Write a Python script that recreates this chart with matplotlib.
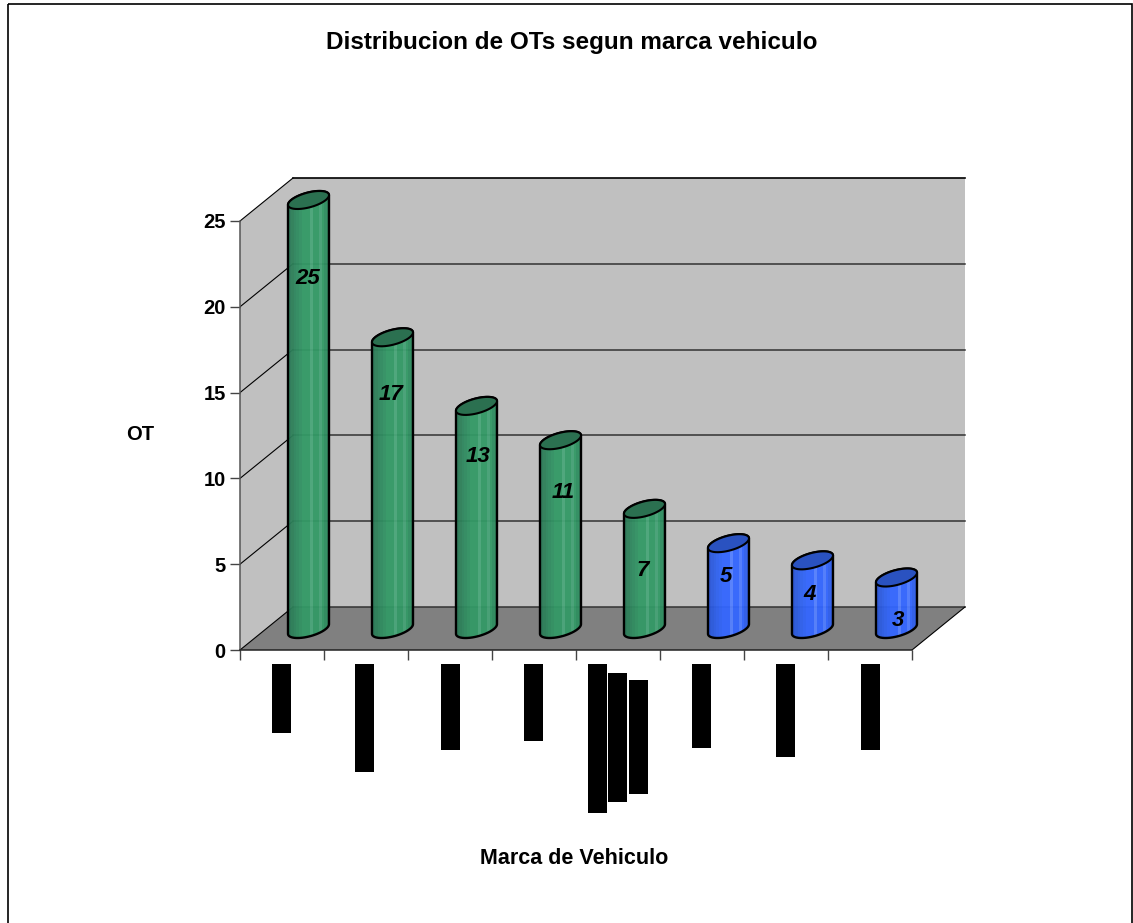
import numpy as np
import matplotlib
matplotlib.use("Agg")
import matplotlib.pyplot as plt
from matplotlib.colors import to_rgb
from matplotlib.patches import Polygon, Rectangle

plt.rcParams['font.family'] = ['Liberation Sans', 'DejaVu Sans']

values = [25, 17, 13, 11, 7, 5, 4, 3]
bar_kind = ['g', 'g', 'g', 'g', 'g', 'b', 'b', 'b']
y_ticks = [0, 5, 10, 15, 20, 25]

# hand placed in the picture (pixels)
label_x = [308, 391, 478, 563, 643, 726, 810, 898]
label_y = [279, 394, 457, 493, 571, 576, 595, 621]

# blacked out category names, pixels
box_left = [272, 355, 441, 524, 588, 608, 629, 692, 776, 861]
box_top = [664, 664, 664, 664, 664, 673, 680, 664, 664, 664]
box_bottom = [733, 772, 750, 741, 813, 802, 794, 748, 757, 750]

green_bands = ['#2b7a58', '#2d8059', '#2f865e', '#308c60', '#329263', '#339966', '#339966',
               '#339966', '#4aa67a', '#339966', '#339966', '#46a276', '#339966', '#2f8e60', '#2b8058']
blue_bands = ['#2a56d8', '#2c5be0', '#2e5fe8', '#3062f0', '#3164f8', '#3366ff', '#3366ff',
              '#3366ff', '#5580ff', '#3366ff', '#3366ff', '#4f7cff', '#3366ff', '#3060ee', '#2c58dc']
top_color = {'g': '#2b7050', 'b': '#2a52c0'}

fig = plt.figure(figsize=(11.33, 9.23), dpi=100)
W, H = 1133, 923

# one x unit = 84 px, one y unit = 17.16 px
PX, PY = 84.0, 17.16
ax = fig.add_axes([240 / W, (H - 650) / H, 8.8 * PX / W, 29 * PY / H])
ax.patch.set_visible(False)

dx, dy = 53 / PX, 43 / PY

# walls and floor
ax.add_patch(Polygon([(dx, dy), (8 + dx, dy), (8 + dx, 25 + dy), (dx, 25 + dy)], fc='#c0c0c0', ec='none'))
ax.add_patch(Polygon([(0, 0), (dx, dy), (dx, 25 + dy), (0, 25)], fc='#c0c0c0', ec='none'))
ax.add_patch(Polygon([(0, 0), (8, 0), (8 + dx, dy), (dx, dy)], fc='#808080', ec='none'))

for v in y_ticks:
    ax.plot([0, dx], [v, v + dy], color='black', lw=0.8)
    ax.plot([dx, 8 + dx], [v + dy, v + dy], color='black' if v == 25 else '#333333',
            lw=1.2 if v == 25 else 1.1)
ax.plot([8, 8 + dx], [0, dy], color='black', lw=0.8)

# cylinders
ru, rx, ry = 17.3 / PX, 11 / PX, 9 / PY
off_x, off_y = 26.5 / PX, 21 / PY
t0 = np.arctan2(rx, ru)
half_w = np.hypot(ru, rx)


def ellipse(cx, cy, t):
    return cx + ru * np.cos(t) + rx * np.sin(t), cy + ry * np.sin(t)


for i, (v, kind) in enumerate(zip(values, bar_kind)):
    cx = i + 0.5 + off_x
    base = off_y
    top = v + off_y
    t_low = np.linspace(t0 + np.pi, t0 + 2 * np.pi, 40)
    t_up = np.linspace(t0, t0 + np.pi, 40)
    xb, yb = ellipse(cx, base, t_low)
    xt, yt = ellipse(cx, top, t_up)
    pts = np.column_stack([np.r_[xb, xt], np.r_[yb, yt]])

    bands = green_bands if kind == 'g' else blue_bands
    rgb = np.array([[to_rgb(c) for c in bands]])
    im = ax.imshow(rgb, extent=[cx - half_w, cx + half_w, base - 2, top + 2], aspect='auto',
                   interpolation='nearest', alpha=0.95, zorder=3)
    outline = Polygon(pts, fc='none', ec='black', lw=1.7, zorder=4, joinstyle='round')
    ax.add_patch(outline)
    im.set_clip_path(outline)

    t_all = np.linspace(0, 2 * np.pi, 80)
    xe, ye = ellipse(cx, top, t_all)
    ax.add_patch(Polygon(np.column_stack([xe, ye]), fc=top_color[kind], ec='black', lw=1.5, zorder=5))

ax.set_xlim(0, 8.8)
ax.set_ylim(0, 29)
ax.set_xticks(range(9))
ax.set_xticklabels([])
ax.set_yticks(y_ticks)
ax.tick_params(axis='x', length=7.2, width=1.0, color='#444444')
ax.tick_params(axis='y', length=7.2, width=1.0, color='#444444', pad=3)
for lab in ax.get_yticklabels():
    lab.set_fontsize(14.5)
    lab.set_fontweight('bold')
ax.spines[['top', 'right']].set_visible(False)
ax.spines['left'].set_bounds(0, 25)
ax.spines['bottom'].set_bounds(0, 8)
ax.spines['left'].set_color('#555555')
ax.spines['left'].set_linewidth(1.1)
ax.spines['bottom'].set_color('#222222')
ax.spines['bottom'].set_linewidth(1.1)

# overlay in pixels for frame, texts, and the black boxes
over = fig.add_axes([0, 0, 1, 1], zorder=10)
over.set_xlim(0, W)
over.set_ylim(H, 0)
over.axis('off')
over.add_patch(Rectangle((7.5, 4), 1124.5, 940, fc='none', ec='black', lw=1.2))
for left, t, b in zip(box_left, box_top, box_bottom):
    over.add_patch(Rectangle((left, t), 19, b - t, fc='black', ec='none'))

over.text(572, 42, 'Distribucion de OTs segun marca vehiculo', fontsize=17.5, fontweight='bold',
          ha='center', va='center')
over.text(140, 435, 'OT', fontsize=14.5, fontweight='bold', ha='center', va='center')
over.text(574, 858, 'Marca de Vehiculo', fontsize=15.5, fontweight='bold', ha='center', va='center')
for v, x, y in zip(values, label_x, label_y):
    over.text(x, y, str(v), fontsize=16, fontweight='bold', style='italic', ha='center', va='center')

fig.savefig('out.png', dpi=100)
